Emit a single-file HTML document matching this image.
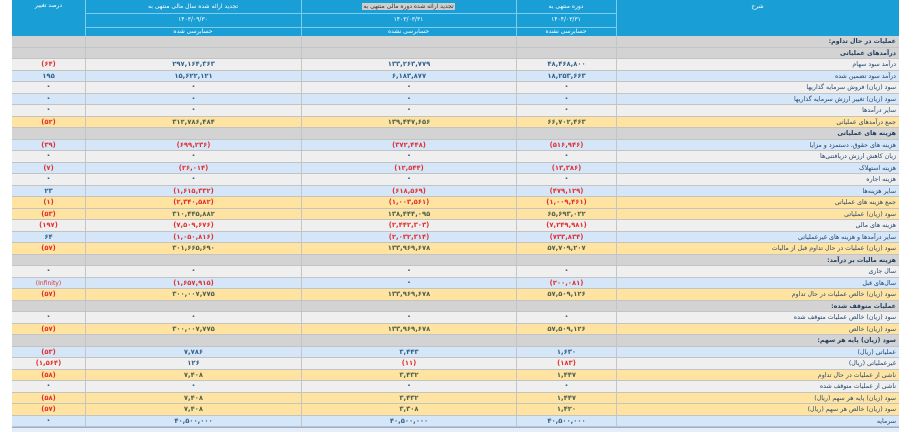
<!DOCTYPE html>
<html lang="fa">
<head>
<meta charset="utf-8">
<style>
*{margin:0;padding:0;box-sizing:border-box;}
html,body{width:900px;height:432px;background:#fff;overflow:hidden;}
body{font-family:"DejaVu Sans","Liberation Sans",sans-serif;position:relative;}
#hdr{position:absolute;left:12px;top:0;width:887px;height:36px;background:#1a9ed6;color:#fff;font-size:6px;}
#hdr .v{position:absolute;top:0;height:36px;width:1px;background:#7fcbec;}
#hdr .h{position:absolute;height:1px;background:#7fcbec;left:73px;width:531px;}
#hdr .t{position:absolute;text-align:center;white-space:nowrap;line-height:10px;}
#body{position:absolute;left:12px;top:36px;width:887px;}
.r{position:relative;height:11.5px;border-bottom:1px solid #c3c3c3;}
.r.w{background:#efefef;}
.r.b{background:#d4e6f7;}
.r.y{background:#ffe3a1;}
.r.g{background:#d3d3d3;}
.r div{position:absolute;top:0;height:100%;line-height:11px;font-size:6.8px;font-weight:bold;text-align:center;border-left:1px solid #c5c5c5;color:#35628a;direction:ltr;white-space:nowrap;}
.r div.z{font-size:9px;line-height:10px;}
.r .p{left:0;width:73px;border-left:none;}
.r .c3{left:73px;width:216px;}
.r .c2{left:289px;width:215px;}
.r .c1{left:504px;width:100px;}
.r .l{left:604px;width:283px;text-align:right;direction:rtl;padding-right:3px;color:#23466f;font-size:6.3px;font-weight:normal;}
.r.g .l{font-weight:bold;color:#1c3a5f;}
.r div.n{color:#e3302c;}
.r.y div{color:#4d6150;}
.r.y div.n{color:#e3302c;}
.r.y .l{color:#2a4a70;}
#foot{position:absolute;left:12px;top:427px;width:887px;height:5px;background:#e4edf8;border-top:1px solid #8fb2d6;}
</style>
</head>
<body>
<div id="hdr">
  <div class="v" style="left:73px"></div>
  <div class="v" style="left:289px"></div>
  <div class="v" style="left:504px"></div>
  <div class="v" style="left:604px"></div>
  <div class="h" style="top:12.5px"></div>
  <div class="h" style="top:26.5px"></div>
  <div class="t" style="left:0;width:73px;top:1px;">درصد تغییر</div>
  <div class="t" style="left:73px;width:216px;top:1.5px;">تجدید ارائه شده سال مالی منتهی به</div>
  <div class="t" style="left:289px;width:215px;top:1.5px;"><span style="background:#cdcdcd;color:#333;padding:0 1px;">تجدید ارائه شده دوره مالی منتهی به</span></div>
  <div class="t" style="left:504px;width:100px;top:1.5px;">دوره منتهی به</div>
  <div class="t" style="left:604px;width:283px;top:2px;">شرح</div>
  <div class="t" style="left:73px;width:216px;top:14.5px;">۱۴۰۳/۰۹/۳۰</div>
  <div class="t" style="left:289px;width:215px;top:14.5px;">۱۴۰۳/۰۳/۳۱</div>
  <div class="t" style="left:504px;width:100px;top:14.5px;">۱۴۰۴/۰۳/۳۱</div>
  <div class="t" style="left:73px;width:216px;top:26.5px;">حسابرسی شده</div>
  <div class="t" style="left:289px;width:215px;top:26.5px;">حسابرسی نشده</div>
  <div class="t" style="left:504px;width:100px;top:26.5px;">حسابرسی نشده</div>
</div>

<div id="body">
<div class="r g"><div class="p"></div><div class="c3"></div><div class="c2"></div><div class="c1"></div><div class="l">عملیات در حال تداوم:</div></div>
<div class="r g"><div class="p"></div><div class="c3"></div><div class="c2"></div><div class="c1"></div><div class="l">درآمدهای عملیاتی</div></div>
<div class="r w"><div class="p n">(۶۴)</div><div class="c3">۲۹۷,۱۶۴,۳۶۳</div><div class="c2">۱۳۳,۲۶۳,۷۷۹</div><div class="c1">۴۸,۴۶۸,۸۰۰</div><div class="l">درآمد سود سهام</div></div>
<div class="r b"><div class="p">۱۹۵</div><div class="c3">۱۵,۶۲۲,۱۲۱</div><div class="c2">۶,۱۸۳,۸۷۷</div><div class="c1">۱۸,۲۵۳,۶۶۳</div><div class="l">درآمد سود تضمین شده</div></div>
<div class="r w"><div class="p z">۰</div><div class="c3 z">۰</div><div class="c2 z">۰</div><div class="c1 z">۰</div><div class="l">سود (زیان) فروش سرمایه گذاریها</div></div>
<div class="r b"><div class="p z">۰</div><div class="c3 z">۰</div><div class="c2 z">۰</div><div class="c1 z">۰</div><div class="l">سود (زیان) تغییر ارزش سرمایه گذاریها</div></div>
<div class="r w"><div class="p z">۰</div><div class="c3 z">۰</div><div class="c2 z">۰</div><div class="c1 z">۰</div><div class="l">سایر درآمدها</div></div>
<div class="r y"><div class="p n">(۵۲)</div><div class="c3">۳۱۲,۷۸۶,۴۸۴</div><div class="c2">۱۳۹,۴۴۷,۶۵۶</div><div class="c1">۶۶,۷۰۲,۴۶۳</div><div class="l">جمع درآمدهای عملیاتی</div></div>
<div class="r g"><div class="p"></div><div class="c3"></div><div class="c2"></div><div class="c1"></div><div class="l">هزینه های عملیاتی</div></div>
<div class="r b"><div class="p n">(۳۹)</div><div class="c3 n">(۶۹۹,۲۳۶)</div><div class="c2 n">(۳۷۲,۴۴۸)</div><div class="c1 n">(۵۱۶,۹۴۶)</div><div class="l">هزینه های حقوق، دستمزد و مزایا</div></div>
<div class="r w"><div class="p z">۰</div><div class="c3 z">۰</div><div class="c2 z">۰</div><div class="c1 z">۰</div><div class="l">زیان کاهش ارزش دریافتنی‌ها</div></div>
<div class="r b"><div class="p n">(۷)</div><div class="c3 n">(۲۶,۰۱۴)</div><div class="c2 n">(۱۲,۵۴۴)</div><div class="c1 n">(۱۳,۳۸۶)</div><div class="l">هزینه استهلاک</div></div>
<div class="r w"><div class="p z">۰</div><div class="c3 z">۰</div><div class="c2 z">۰</div><div class="c1 z">۰</div><div class="l">هزینه اجاره</div></div>
<div class="r b"><div class="p">۲۳</div><div class="c3 n">(۱,۶۱۵,۳۳۲)</div><div class="c2 n">(۶۱۸,۵۶۹)</div><div class="c1 n">(۴۷۹,۱۲۹)</div><div class="l">سایر هزینه‌ها</div></div>
<div class="r y"><div class="p n">(۱)</div><div class="c3 n">(۲,۳۴۰,۵۸۲)</div><div class="c2 n">(۱,۰۰۳,۵۶۱)</div><div class="c1 n">(۱,۰۰۹,۴۶۱)</div><div class="l">جمع هزینه های عملیاتی</div></div>
<div class="r y"><div class="p n">(۵۳)</div><div class="c3">۳۱۰,۴۴۵,۸۸۲</div><div class="c2">۱۳۸,۴۴۴,۰۹۵</div><div class="c1">۶۵,۶۹۳,۰۲۲</div><div class="l">سود (زیان) عملیاتی</div></div>
<div class="r w"><div class="p n">(۱۹۷)</div><div class="c3 n">(۷,۵۰۹,۶۷۶)</div><div class="c2 n">(۲,۴۴۲,۳۰۳)</div><div class="c1 n">(۷,۲۴۹,۹۸۱)</div><div class="l">هزینه های مالی</div></div>
<div class="r b"><div class="p">۶۴</div><div class="c3 n">(۱,۰۵۰,۸۱۶)</div><div class="c2 n">(۲,۰۳۲,۳۱۴)</div><div class="c1 n">(۷۳۳,۸۳۴)</div><div class="l">سایر درآمدها و هزینه های غیرعملیاتی</div></div>
<div class="r y"><div class="p n">(۵۷)</div><div class="c3">۳۰۱,۶۶۵,۶۹۰</div><div class="c2">۱۳۳,۹۶۹,۶۷۸</div><div class="c1">۵۷,۷۰۹,۲۰۷</div><div class="l">سود (زیان) عملیات در حال تداوم قبل از مالیات</div></div>
<div class="r g"><div class="p"></div><div class="c3"></div><div class="c2"></div><div class="c1"></div><div class="l">هزینه مالیات بر درآمد:</div></div>
<div class="r w"><div class="p z">۰</div><div class="c3 z">۰</div><div class="c2 z">۰</div><div class="c1 z">۰</div><div class="l">سال جاری</div></div>
<div class="r b"><div class="p n" style="font-weight:normal;font-size:6px">(Infinity)</div><div class="c3 n">(۱,۶۵۷,۹۱۵)</div><div class="c2 z">۰</div><div class="c1 n">(۲۰۰,۰۸۱)</div><div class="l">سال‌های قبل</div></div>
<div class="r y"><div class="p n">(۵۷)</div><div class="c3">۳۰۰,۰۰۷,۷۷۵</div><div class="c2">۱۳۳,۹۶۹,۶۷۸</div><div class="c1">۵۷,۵۰۹,۱۲۶</div><div class="l">سود (زیان) خالص عملیات در حال تداوم</div></div>
<div class="r g"><div class="p"></div><div class="c3"></div><div class="c2"></div><div class="c1"></div><div class="l">عملیات متوقف شده:</div></div>
<div class="r w"><div class="p z">۰</div><div class="c3 z">۰</div><div class="c2 z">۰</div><div class="c1 z">۰</div><div class="l">سود (زیان) خالص عملیات متوقف شده</div></div>
<div class="r y"><div class="p n">(۵۷)</div><div class="c3">۳۰۰,۰۰۷,۷۷۵</div><div class="c2">۱۳۳,۹۶۹,۶۷۸</div><div class="c1">۵۷,۵۰۹,۱۲۶</div><div class="l">سود (زیان) خالص</div></div>
<div class="r g"><div class="p"></div><div class="c3"></div><div class="c2"></div><div class="c1"></div><div class="l">سود (زیان) پایه هر سهم:</div></div>
<div class="r b"><div class="p n">(۵۳)</div><div class="c3">۷,۷۸۶</div><div class="c2">۳,۴۴۳</div><div class="c1">۱,۶۳۰</div><div class="l">عملیاتی (ریال)</div></div>
<div class="r w"><div class="p n">(۱,۵۶۴)</div><div class="c3">۱۲۶</div><div class="c2 n">(۱۱)</div><div class="c1 n">(۱۸۳)</div><div class="l">غیرعملیاتی (ریال)</div></div>
<div class="r y"><div class="p n">(۵۸)</div><div class="c3">۷,۴۰۸</div><div class="c2">۳,۴۳۲</div><div class="c1">۱,۴۴۷</div><div class="l">ناشی از عملیات در حال تداوم</div></div>
<div class="r w"><div class="p z">۰</div><div class="c3 z">۰</div><div class="c2 z">۰</div><div class="c1 z">۰</div><div class="l">ناشی از عملیات متوقف شده</div></div>
<div class="r y"><div class="p n">(۵۸)</div><div class="c3">۷,۴۰۸</div><div class="c2">۳,۴۳۲</div><div class="c1">۱,۴۴۷</div><div class="l">سود (زیان) پایه هر سهم (ریال)</div></div>
<div class="r y"><div class="p n">(۵۷)</div><div class="c3">۷,۴۰۸</div><div class="c2">۳,۳۰۸</div><div class="c1">۱,۴۲۰</div><div class="l">سود (زیان) خالص هر سهم (ریال)</div></div>
<div class="r b"><div class="p z">۰</div><div class="c3">۴۰,۵۰۰,۰۰۰</div><div class="c2">۴۰,۵۰۰,۰۰۰</div><div class="c1">۴۰,۵۰۰,۰۰۰</div><div class="l">سرمایه</div></div>
</div>
<div id="foot"></div>
</body>
</html>
